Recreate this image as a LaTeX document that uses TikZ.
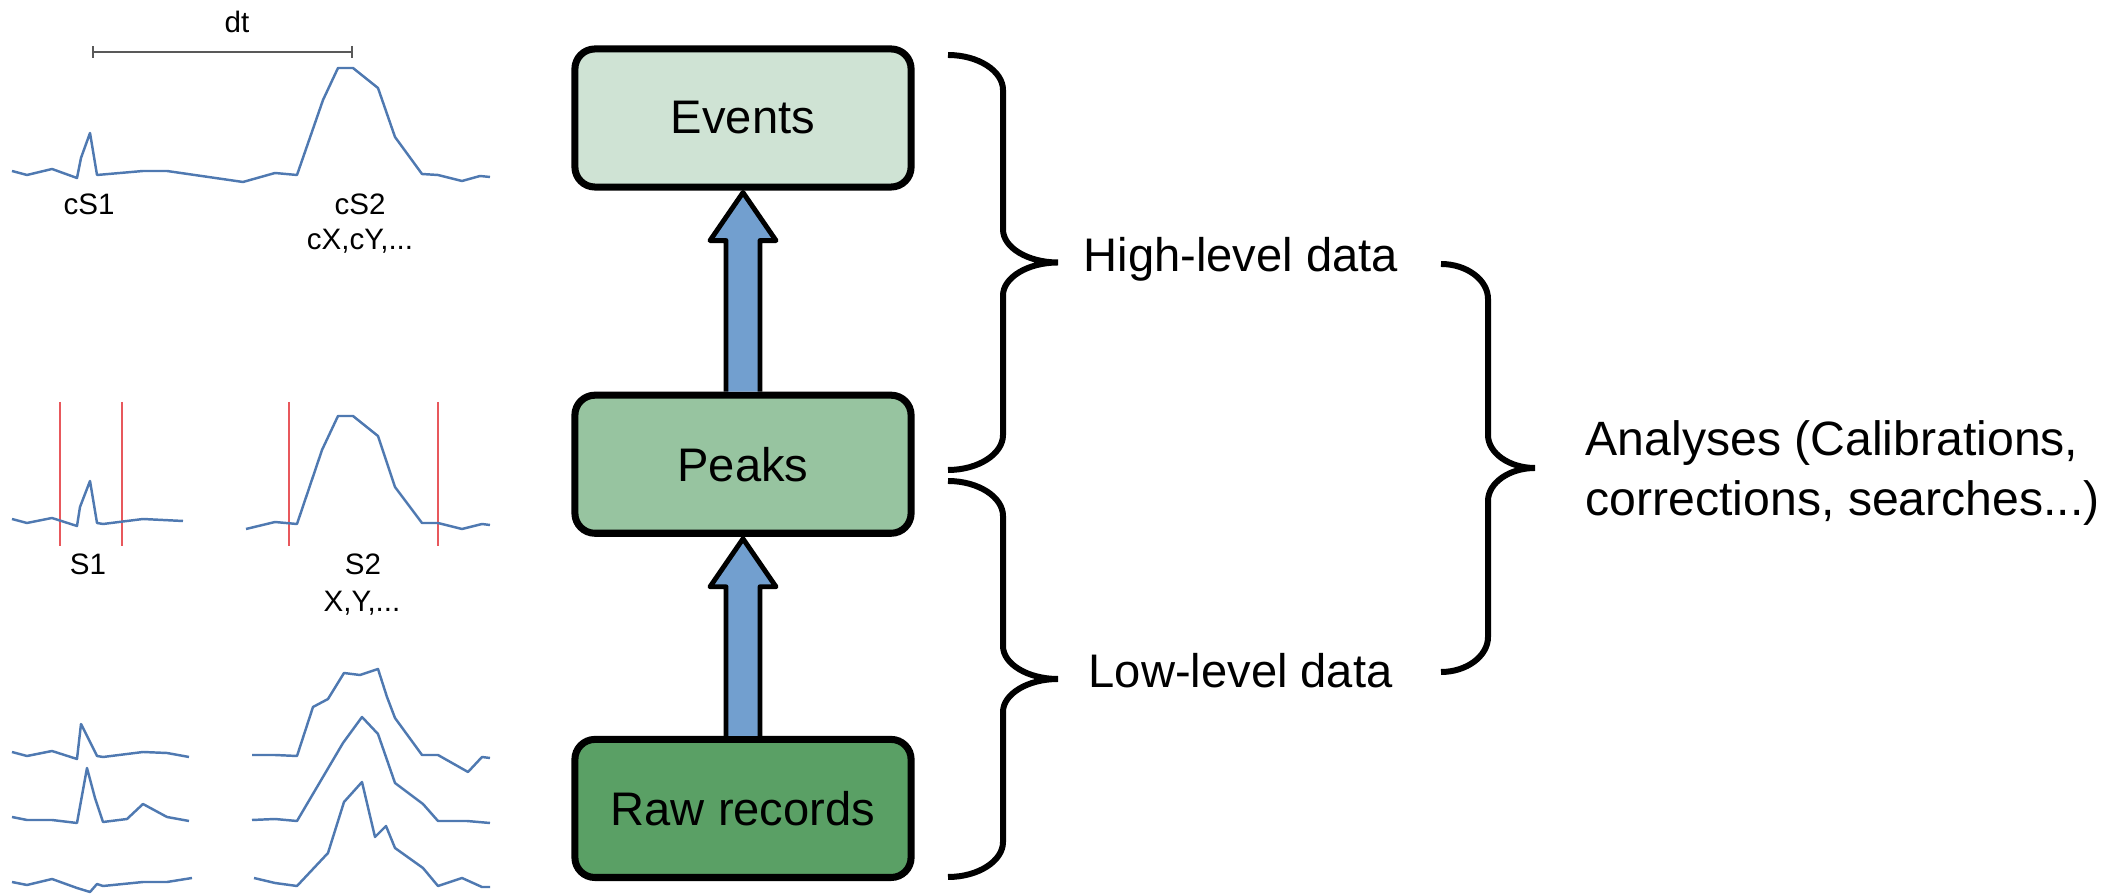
\documentclass[tikz,border=0pt]{standalone}
\usepackage{fontspec}
\setmainfont{Liberation Sans}
\usetikzlibrary{calc,positioning,arrows.meta}

\definecolor{eventfill}{HTML}{CFE3D4}
\definecolor{peakfill}{HTML}{97C4A0}
\definecolor{rawfill}{HTML}{5AA065}
\definecolor{arrowblue}{HTML}{729FCF}
\definecolor{waveblue}{HTML}{4F79B1}
\definecolor{cutred}{HTML}{E8585C}

\tikzset{
  levelbox/.style={draw, line width=2pt, rounded corners=0.2cm,
    minimum width=3.36cm, minimum height=1.38cm,
    font=\fontsize{13.4}{16}\selectfont},
  levellabel/.style={inner sep=0pt, anchor=west, text height=0.75em, text depth=0.25em,
    font=\fontsize{13.4}{16}\selectfont},
  uparrow/.style={draw, line width=1.4pt, fill=arrowblue, line join=round},
  bracestyle/.style={line width=1.7pt},
  wave/.style={waveblue, line width=0.7pt, line join=round},
  cutline/.style={cutred, line width=0.45pt},
  smalltext/.style={inner sep=0pt, font=\fontsize{8.4}{10}\selectfont}
}

% curly brace: end x, top y, bottom y, half width, name of tip
\newcommand{\levelbrace}[5]{%
  \pgfmathsetmacro{\xv}{#1+#4}
  \pgfmathsetmacro{\xt}{#1+2*#4}
  \pgfmathsetmacro{\ym}{(#2+#3)/2}
  \draw[bracestyle] (#1,#2) .. controls (#1+0.55*#4,#2) and (\xv,#2+16) .. (\xv,#2+35)
    -- (\xv,\ym-33) .. controls (\xv,\ym-15) and (\xt-0.55*#4,\ym) .. (\xt,\ym)
    .. controls (\xt-0.55*#4,\ym) and (\xv,\ym+15) .. (\xv,\ym+33)
    -- (\xv,#3-35) .. controls (\xv,#3-16) and (#1+0.55*#4,#3) .. (#1,#3);
  \coordinate (#5) at (\xt,\ym);
}

\begin{document}
\begin{tikzpicture}[x=0.01cm, y=-0.01cm]
  \useasboundingbox (0,0) rectangle (2106,895);

  % data levels
  \node[levelbox, fill=eventfill] (events) at (743,118) {Events};
  \node[levelbox, fill=peakfill, below=2.01cm of events] (peaks) {Peaks};
  \node[levelbox, fill=rawfill, below=1.99cm of peaks] (raw) {Raw records};

  % block arrows between the levels
  \draw[uparrow] ($(peaks.north)+(-17,0)$) -- ($(events.south)+(-17,50)$)
    -- ($(events.south)+(-33,50)$) -- ($(events.south)+(0,2)$)
    -- ($(events.south)+(33,50)$) -- ($(events.south)+(17,50)$) -- ($(peaks.north)+(17,0)$);
  \draw[uparrow] ($(raw.north)+(-17,0)$) -- ($(peaks.south)+(-17,50)$)
    -- ($(peaks.south)+(-33,50)$) -- ($(peaks.south)+(0,2)$)
    -- ($(peaks.south)+(33,50)$) -- ($(peaks.south)+(17,50)$) -- ($(raw.north)+(17,0)$);

  % braces
  \levelbrace{948}{55}{470}{55}{hightip}
  \levelbrace{948}{481}{877}{55}{lowtip}
  \levelbrace{1441}{264}{672}{47}{anatip}
  \node[levellabel, right=0.25cm of hightip] (highlbl) {High-level data};
  \node[levellabel, right=0.3cm of lowtip] (lowlbl) {Low-level data};
  \node[inner sep=0pt, anchor=west, align=left, right=0.5cm of anatip, yshift=-0.05cm,
    font=\fontsize{13.7}{17.3}\selectfont] (analysislbl)
    {Analyses (Calibrations,\\corrections, searches...)};

  % event level sketch
  \coordinate (dtstart) at (92,52);
  \coordinate (dtend) at (353,52);
  \draw[gray!70!black, line width=0.6pt, {Bar[width=0.12cm]}-{Bar[width=0.12cm]}] (dtstart) -- (dtend);
  \node[smalltext] (dt) at (237,22) {dt};
  \draw[wave] (12,171) -- (27,175) -- (52,169) -- (77,178) -- (81,158) -- (90,133) -- (97,175)
    -- (143,171) -- (167,171) -- (243,182) -- (275,173) -- (297,175) -- (323,100) -- (338,68)
    -- (353,68) -- (378,88) -- (395,137) -- (422,174) -- (438,175) -- (462,181) -- (480,176) -- (490,177);
  \node[smalltext] (cSone) at (89,204) {cS1};
  \node[smalltext] (cStwo) at (360,204) {cS2};
  \node[smalltext] (cXY) at (360,241) {cX,cY,...};

  % peak level sketch
  \foreach \xr in {60,122,289,438}
    \draw[cutline] (\xr,402) -- (\xr,546);
  \draw[wave] (12,519) -- (27,523) -- (52,518) -- (77,526) -- (80,507) -- (90,481) -- (97,523)
    -- (103,524) -- (143,519) -- (183,521);
  \draw[wave] (246,529) -- (275,522) -- (297,524) -- (322,450) -- (338,416) -- (353,416) -- (378,436)
    -- (395,487) -- (422,523) -- (438,523) -- (462,529) -- (482,524) -- (490,525);
  \node[smalltext] (Sone) at (88,564) {S1};
  \node[smalltext] (Stwo) at (363,564) {S2};
  \node[smalltext] (XY) at (362,603) {X,Y,...};

  % raw record sketch
  \draw[wave] (12,752) -- (27,756) -- (52,751) -- (77,759) -- (81,724) -- (97,756) -- (103,757)
    -- (143,752) -- (167,753) -- (189,757);
  \draw[wave] (12,817) -- (27,820) -- (52,820) -- (77,823) -- (87,768) -- (95,798) -- (103,822)
    -- (127,819) -- (143,804) -- (167,817) -- (189,821);
  \draw[wave] (12,882) -- (27,885) -- (52,879) -- (77,888) -- (90,892) -- (97,884) -- (103,886)
    -- (143,882) -- (167,882) -- (192,878);
  \draw[wave] (252,755) -- (275,755) -- (297,756) -- (313,707) -- (328,699) -- (344,673) -- (360,675)
    -- (378,669) -- (387,697) -- (395,718) -- (422,755) -- (438,755) -- (468,772) -- (482,757) -- (490,758);
  \draw[wave] (252,820) -- (275,819) -- (297,821) -- (343,743) -- (362,717) -- (378,734) -- (395,783)
    -- (423,804) -- (438,821) -- (467,821) -- (490,823);
  \draw[wave] (254,878) -- (275,883) -- (297,886) -- (328,853) -- (344,802) -- (362,782) -- (375,837)
    -- (386,826) -- (395,848) -- (423,868) -- (438,886) -- (462,878) -- (482,887) -- (490,887);
\end{tikzpicture}
\end{document}
